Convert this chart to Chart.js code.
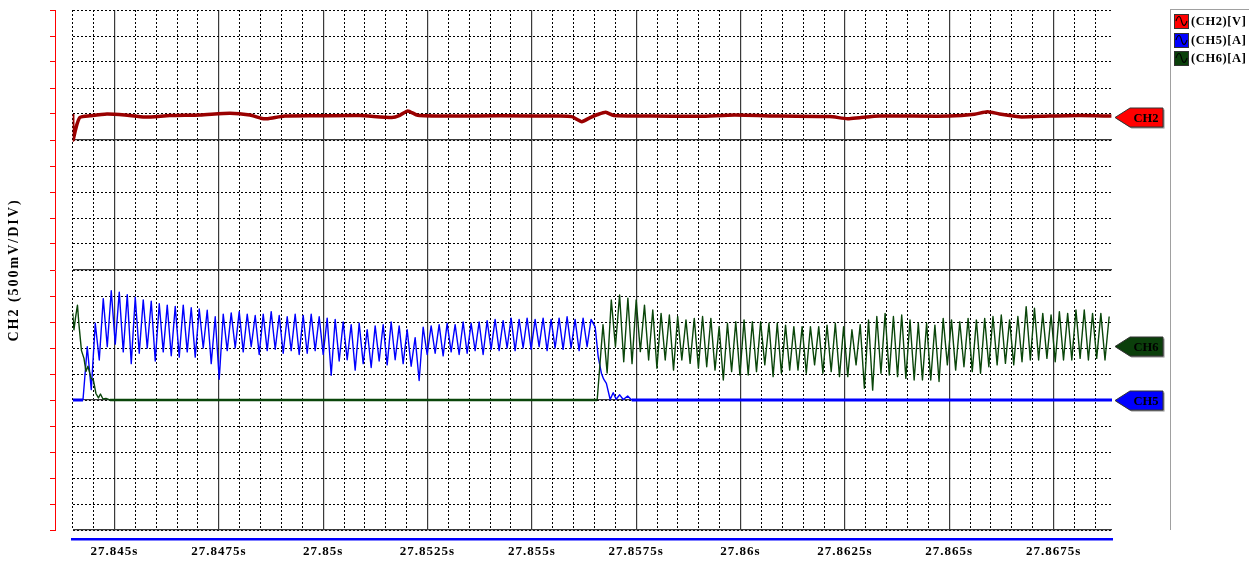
<!DOCTYPE html>
<html>
<head>
<meta charset="utf-8">
<script src="https://cdn.jsdelivr.net/npm/chart.js@4/dist/chart.umd.min.js"></script>
<style>
  html, body { margin: 0; padding: 0; background: #fff; }
  #wrap { position: relative; width: 1249px; height: 561px; overflow: hidden; }
  #c { position: absolute; left: 0; top: 0; }
  #legend { position: absolute; left: 1170px; top: 9px; width: 100px; height: 520px;
            border-left: 1px solid #a0a0a0; border-top: 1px solid #a0a0a0; }
  .item { position: absolute; left: 3px; height: 15px; white-space: nowrap;
          font: bold 12.5px "Liberation Serif", "Times New Roman", serif; letter-spacing: 0.6px; color: #000; }
  .item svg { position: absolute; left: 0; top: 0; }
  .item span { position: absolute; left: 17px; top: 0; line-height: 15px; }
</style>
</head>
<body>
<div id="wrap">
  <canvas id="c" width="1249" height="561"></canvas>
  <div id="legend"></div>
</div>
<script>
// ---------------- data (time in ms after 27.840 s, values in screen divisions) ----------------
const tickLabels = ['27.845s','27.8475s','27.85s','27.8525s','27.855s','27.8575s','27.86s','27.8625s','27.865s','27.8675s'];
const legendNames = ['(CH2)[V]', '(CH5)[A]', '(CH6)[A]'];
const legendColors = ['#ff0000', '#0000ff', '#0a400a'];
const markerLabels = ['CH2', 'CH6', 'CH5'];
const markerLevels = [5.9, -2.91, -5.0];
const markerColors = ['#ff0000', '#0b3f0b', '#0000ff'];

// CH2 (red) sparse samples
const ch2Time = [4.0, 4.007, 4.054, 4.102, 4.174, 4.413, 4.820, 5.251, 5.730, 6.329, 7.047, 7.766, 8.245, 8.532, 8.676,
  9.083, 9.921, 10.879, 11.645, 11.837, 12.028, 12.268, 13.034, 14.231, 15.668, 15.955, 16.099, 16.195, 16.386,
  16.578, 16.770, 16.961, 17.823, 19.020, 19.858, 20.936, 22.133, 22.564, 22.851, 23.330, 25.006, 25.605, 25.916,
  26.204, 26.683, 27.401, 28.119, 28.886];
const ch2Vals = [6.0, 5.0, 5.3, 5.6, 5.87, 5.93, 6.0, 5.96, 5.88, 5.94, 5.96, 6.03, 5.96, 5.83, 5.82,
  5.92, 5.93, 5.94, 5.87, 5.95, 6.12, 5.95, 5.92, 5.93, 5.92, 5.90, 5.78, 5.70, 5.85,
  5.98, 6.07, 5.94, 5.92, 5.91, 5.96, 5.92, 5.90, 5.82, 5.86, 5.92, 5.92, 5.99, 6.09,
  6.0, 5.89, 5.92, 5.94, 5.92];

// CH5 (blue): lead-in, ripple extrema (uniform half-period), fall and baseline
const ch5LeadTime = [4.0, 4.246];
const ch5LeadVals = [-5, -5];
const ch5RippleStart = 4.349;
const ch5RippleStep = 0.0958;
const ch5Ripple = [
  -2.95, -4.6, -2.05, -3.46, -1.1, -2.95, -0.8,
  -2.85, -0.85, -3.15, -0.95, -3.6, -1.05,
  -3.2, -1.15, -3.0, -1.2, -3.5, -1.3, -3.15, -1.35, -3.3, -1.4, -3.35, -1.35, -3.15, -1.45, -3.35, -1.5, -3.0, -1.55, -3.6,
  -1.8, -4.2,
  -1.7, -3.1, -1.65, -3.0, -1.6, -3.15, -1.7, -2.95, -1.75, -3.25, -1.7, -3.1, -1.6, -3.05, -1.75, -3.2, -1.8, -3.1,
  -1.7, -3.25, -1.75, -3.2, -1.7, -3.1, -1.8, -3.25, -1.85,
  -4.05,
  -1.9, -3.5, -2.0, -3.45, -2.1, -3.85, -2.05, -3.6, -2.3, -3.75, -2.15, -3.5, -2.1, -3.65, -2.0, -3.45, -2.15, -3.6, -2.3, -3.7, -2.6,
  -4.25,
  -2.2, -3.25, -2.15, -3.2, -2.1, -3.3, -2.05, -3.15, -2.1, -3.25, -2.0, -3.2, -2.05, -3.1, -2.0, -3.25, -1.95, -3.05,
  -1.9, -3.1, -1.95, -3.0, -1.85, -3.1, -1.9, -3.0, -1.85, -3.05, -1.9, -2.95, -1.85, -3.1, -1.9, -3.0, -1.85, -3.05,
  -1.8, -3.0, -1.9, -3.1, -1.85, -2.95, -1.9
];
const ch5TailTime = [16.518, 16.590, 16.666, 16.722, 16.786, 16.877, 16.949, 17.021, 17.105, 17.189, 17.296, 17.392, 28.9];
const ch5TailVals = [-2.2, -3.33, -3.97, -4.2, -4.36, -4.98, -4.72, -4.97, -4.8, -4.98, -4.85, -5, -5];

// CH6 (green): decaying start, baseline, then ripple extrema
const ch6LeadTime = [4.0, 4.030, 4.066, 4.114, 4.150, 4.210, 4.270, 4.318, 4.365, 4.437, 4.497, 4.557, 4.617, 4.665, 4.725, 4.796, 4.892, 16.566];
const ch6LeadVals = [-1.65, -2.3, -1.85, -1.35, -2.1, -3.1, -3.4, -3.9, -3.7, -4.15, -4.25, -4.75, -4.92, -4.77, -4.96, -4.94, -5, -5];
const ch6RippleStart = 16.705;
const ch6RippleStep = 0.0994;
const ch6Ripple = [
  -2.1, -3.96, -1.15, -2.95, -0.96, -3.53, -1.08, -3.6, -1.15, -3.14, -1.35, -3.46, -1.54, -3.78, -1.67, -3.46,
  -1.73, -3.85, -1.79, -3.46, -1.92, -3.59, -1.86, -3.78, -1.79, -3.72, -1.86, -3.85, -2.18, -4.23, -2.05, -3.91,
  -1.99, -4.04, -1.92, -4.04, -1.99, -3.91, -1.99, -3.65, -2.05, -4.10, -2.05, -3.97, -2.12, -3.85, -2.18, -3.85,
  -2.18, -3.97, -2.18, -3.65, -2.18, -3.97, -2.12, -3.91, -2.05, -4.10, -2.18, -4.10, -2.3, -3.65, -2.1, -4.55,
  -1.92, -4.62, -1.79, -3.97, -1.67, -4.04, -1.79, -4.10, -1.73, -4.17, -1.92, -4.23, -2.05, -4.23, -2.05, -4.23,
  -2.12, -4.29, -1.86, -3.65, -1.92, -3.85, -1.99, -3.72, -1.86, -3.91, -1.92, -3.97, -1.86, -3.72, -1.79, -3.65,
  -1.73, -3.59, -1.92, -3.65, -1.79, -3.53, -1.41, -3.46, -1.47, -3.46, -1.67, -3.40, -1.73, -3.53, -1.60, -3.46,
  -1.67, -3.46, -1.54, -3.40, -1.54, -3.46, -1.67, -3.40, -1.67, -3.46, -1.79
];

// ---------------- build point lists ----------------
function pairs(ts, vs) { return ts.map((t, i) => ({ x: t, y: vs[i] })); }
function ripple(t0, dt, vs) { return vs.map((v, i) => ({ x: t0 + i * dt, y: v })); }

const ch2Data = pairs(ch2Time, ch2Vals);
const ch5Data = pairs(ch5LeadTime, ch5LeadVals)
  .concat(ripple(ch5RippleStart, ch5RippleStep, ch5Ripple))
  .concat(pairs(ch5TailTime, ch5TailVals));
const ch6Data = pairs(ch6LeadTime, ch6LeadVals)
  .concat(ripple(ch6RippleStart, ch6RippleStep, ch6Ripple));

// ---------------- legend (HTML) ----------------
const legendEl = document.getElementById('legend');
legendNames.forEach((name, i) => {
  const d = document.createElement('div');
  d.className = 'item';
  d.style.top = (4 + i * 18.5) + 'px';
  d.innerHTML = '<svg width="15" height="15" viewBox="0 0 15 15">' +
    '<rect x="0.5" y="0.5" width="14" height="14" fill="' + legendColors[i] + '" stroke="#333" stroke-width="1"/>' +
    '<path d="M2 7 C4 1, 6 1, 7.5 7 S11 13, 13 7" fill="none" stroke="#000" stroke-width="1.1"/></svg>' +
    '<span>' + name + '</span>';
  legendEl.appendChild(d);
});

// ---------------- plugins ----------------
const textPlugin = {
  id: 'textSpacing',
  afterUpdate(chart) {
    const s = chart.scales.yRed;
    if (s && !s._patched) {
      const orig = s.drawTitle;
      s.drawTitle = function () {
        this.ctx.save(); this.ctx.letterSpacing = '2px'; orig.call(this); this.ctx.restore();
      };
      const sx = chart.scales.xLabels;
      const origL = sx.drawLabels;
      sx.drawLabels = function (a) {
        this.ctx.save(); this.ctx.letterSpacing = '1px'; origL.call(this, a); this.ctx.restore();
      };
      s._patched = true;
    }
  }
};

const markerPlugin = {
  id: 'markers',
  afterDraw(chart) {
    const ctx = chart.ctx, ys = chart.scales.y, r = chart.chartArea.right;
    ctx.save();
    markerLabels.forEach((lab, i) => {
      const y = Math.round(ys.getPixelForValue(markerLevels[i])) + 0.5;
      const x0 = r + 3, x1 = r + 18, x2 = r + 51, h = 9.5;
      ctx.beginPath();
      ctx.moveTo(x0, y); ctx.lineTo(x1, y - h); ctx.lineTo(x2, y - h); ctx.lineTo(x2, y + h); ctx.lineTo(x1, y + h);
      ctx.closePath();
      ctx.shadowColor = 'rgba(0,0,0,0.45)'; ctx.shadowOffsetX = 1.5; ctx.shadowOffsetY = 1.5; ctx.shadowBlur = 0;
      ctx.fillStyle = markerColors[i];
      ctx.fill();
      ctx.shadowColor = 'transparent';
      ctx.strokeStyle = '#333'; ctx.lineWidth = 1;
      ctx.stroke();
      ctx.fillStyle = '#000';
      ctx.font = 'bold 12.5px "Liberation Serif", "Times New Roman", serif';
      ctx.textAlign = 'center'; ctx.textBaseline = 'middle';
      ctx.fillText(lab, r + 34, y + 1);
    });
    ctx.restore();
  }
};

// ---------------- chart ----------------
const baseWidth = (w, thick) => ctx => (ctx.p0.parsed.y === -5 && ctx.p1.parsed.y === -5) ? thick : w;
const minorGrid = { color: '#000', lineWidth: 1, drawTicks: false };
const serif = '"Liberation Serif", "Times New Roman", serif';

new Chart(document.getElementById('c'), {
  type: 'line',
  data: {
    datasets: [
      { label: legendNames[0], data: ch2Data, borderColor: '#9a0000', borderWidth: 3.5, pointRadius: 0,
        tension: 0.2, borderJoinStyle: 'round', order: 3, xAxisID: 'x', yAxisID: 'y' },
      { label: legendNames[1], data: ch5Data, borderColor: '#0000ff', borderWidth: 1.4, pointRadius: 0,
        tension: 0, borderJoinStyle: 'round', order: 2, xAxisID: 'x', yAxisID: 'y',
        segment: { borderWidth: baseWidth(1.4, 3) } },
      { label: legendNames[2], data: ch6Data, borderColor: '#0a460a', borderWidth: 1.4, pointRadius: 0,
        tension: 0, borderJoinStyle: 'round', order: 1, xAxisID: 'x', yAxisID: 'y',
        segment: { borderWidth: baseWidth(1.4, 2.6) } }
    ]
  },
  options: {
    responsive: false,
    animation: false,
    events: [],
    layout: { padding: { left: 0, top: 10, right: 137, bottom: 0 } },
    plugins: { legend: { display: false }, tooltip: { enabled: false } },
    scales: {
      xMinor: {
        type: 'linear', position: 'bottom', weight: 0, min: 4.0, max: 28.9,
        ticks: { display: false, stepSize: 0.5, includeBounds: false },
        grid: minorGrid, border: { display: false, dash: [2, 2] },
        afterFit: s => { s.height = 0; }
      },
      x: {
        type: 'linear', position: 'bottom', weight: 1, min: 4.0, max: 28.9,
        ticks: { display: false, stepSize: 2.5, includeBounds: false },
        grid: { color: '#3a3a3a', lineWidth: 1.2, drawTicks: false },
        border: { display: false },
        afterFit: s => { s.height = 9.5; }
      },
      xLabels: {
        type: 'linear', position: 'bottom', weight: 2, min: 4.0, max: 28.9,
        ticks: {
          stepSize: 2.5, includeBounds: false, autoSkip: false, maxRotation: 0, padding: 4,
          color: '#000', font: { family: serif, size: 13, weight: 'bold' },
          callback: v => tickLabels[Math.round((v - 5) / 2.5)] ?? ''
        },
        grid: { display: false, drawTicks: false },
        border: { display: true, color: '#0000ff', width: 2.5 },
        afterFit: s => { s.height = 21.5; }
      },
      yMinor: {
        type: 'linear', position: 'left', weight: 0, min: -10, max: 10,
        ticks: { display: false, stepSize: 1 },
        grid: minorGrid, border: { display: false, dash: [2, 2] },
        afterFit: s => { s.width = 0; }
      },
      y: {
        type: 'linear', position: 'left', weight: 1, min: -10, max: 10,
        ticks: { display: false, stepSize: 5 },
        grid: { color: c => (c.tick && c.tick.value === 10) ? 'rgba(0,0,0,0)' : '#3a3a3a', lineWidth: 1.2, drawTicks: false },
        border: { display: false },
        afterFit: s => { s.width = 17.7; }
      },
      yRed: {
        type: 'linear', position: 'left', weight: 2, min: -10, max: 10,
        ticks: { display: false, stepSize: 1 },
        grid: { drawOnChartArea: false, drawTicks: true, tickLength: 5, tickColor: '#ff0000', tickWidth: 1 },
        border: { display: true, color: '#ff0000', width: 1 },
        title: { display: true, text: 'CH2 (500mV/DIV)', color: '#000', padding: { top: 6, bottom: 0 },
                 font: { family: serif, size: 14, weight: 'bold' } },
        afterFit: s => { s.width = 55; }
      }
    }
  },
  plugins: [textPlugin, markerPlugin]
});
</script>
</body>
</html>
